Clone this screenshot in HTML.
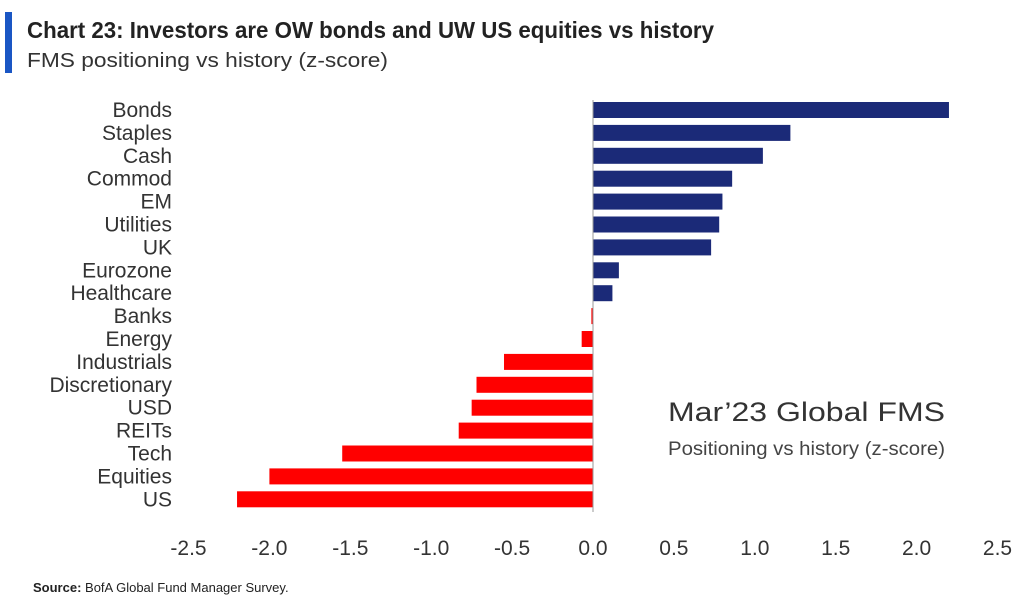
<!DOCTYPE html>
<html><head><meta charset="utf-8"><style>
body{margin:0;background:#fff;width:1024px;height:605px;overflow:hidden;font-family:"Liberation Sans",sans-serif;}
</style></head><body>
<svg id="c" width="1024" height="605" xmlns="http://www.w3.org/2000/svg">
<rect x="5" y="12" width="7" height="61" fill="#1a56c4"/>
<text x="27" y="38" font-size="23" font-weight="bold" fill="#222" textLength="687" lengthAdjust="spacingAndGlyphs">Chart 23: Investors are OW bonds and UW US equities vs history</text>
<text x="27" y="67" font-size="20" fill="#333" textLength="361" lengthAdjust="spacingAndGlyphs">FMS positioning vs history (z-score)</text>
<g id="bars"></g>
<g id="ylabels"></g>
<g id="xticks"></g>
<line id="zero" stroke="#999" stroke-width="1"/>
<text x="945" y="421" font-size="27" fill="#333" text-anchor="end" textLength="277" lengthAdjust="spacingAndGlyphs">Mar’23 Global FMS</text>
<text x="945" y="455" font-size="19" fill="#444" text-anchor="end" textLength="277" lengthAdjust="spacingAndGlyphs">Positioning vs history (z-score)</text>
<text x="33" y="592" font-size="13" fill="#222"><tspan font-weight="bold">Source:</tspan>  BofA Global Fund Manager Survey.</text>
</svg>
<script>
const categories=["Bonds","Staples","Cash","Commod","EM","Utilities","UK","Eurozone","Healthcare","Banks","Energy","Industrials","Discretionary","USD","REITs","Tech","Equities","US"];
const values=[2.20,1.22,1.05,0.86,0.80,0.78,0.73,0.16,0.12,-0.01,-0.07,-0.55,-0.72,-0.75,-0.83,-1.55,-2.0,-2.2];
const ticks=[-2.5,-2.0,-1.5,-1.0,-0.5,0.0,0.5,1.0,1.5,2.0,2.5];
const NS="http://www.w3.org/2000/svg";
const x0=593,scale=161.8,top0=110,pitch=22.9,bh=16;
function xs(v){return x0+v*scale;}
function yc(i){return top0+i*pitch;}
const gb=document.getElementById('bars'),gl=document.getElementById('ylabels'),gt=document.getElementById('xticks');
categories.forEach((c,i)=>{
 const v=values[i];const r=document.createElementNS(NS,'rect');
 r.setAttribute('x',Math.min(xs(0),xs(v)));r.setAttribute('y',yc(i)-bh/2);
 r.setAttribute('width',Math.max(Math.abs(xs(v)-xs(0)),1));r.setAttribute('height',bh);
 r.setAttribute('fill',v>=0?'#1b2a78':'#ff0000');
 
 
 gb.appendChild(r);
 const t=document.createElementNS(NS,'text');
 t.setAttribute('x',172);t.setAttribute('y',yc(i)+7);t.setAttribute('font-size','21');
 t.setAttribute('text-anchor','end');t.setAttribute('fill','#333');t.textContent=c;
 
 
 gl.appendChild(t);
});
ticks.forEach(v=>{
 const t=document.createElementNS(NS,'text');
 t.setAttribute('x',xs(v));t.setAttribute('y',555);t.setAttribute('font-size','21');
 t.setAttribute('text-anchor','middle');t.setAttribute('fill','#333');t.textContent=v.toFixed(1);
 
 
 gt.appendChild(t);
});
const z=document.getElementById('zero');
z.setAttribute('x1',xs(0));z.setAttribute('x2',xs(0));z.setAttribute('y1',100);z.setAttribute('y2',512);
</script>
</body></html>
